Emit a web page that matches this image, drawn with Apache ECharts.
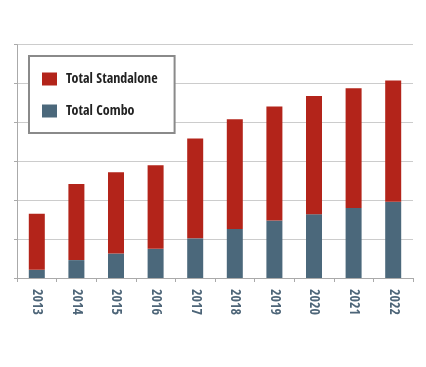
<!DOCTYPE html>
<html>
<head>
<meta charset="utf-8">
<script src="https://cdn.jsdelivr.net/npm/echarts@6/dist/echarts.min.js"></script>
<style>
html,body{margin:0;padding:0;background:#fff;}
#chart{width:426px;height:367px;}
</style>
</head>
<body>
<div id="chart"></div>
<script>
const years = ['2013','2014','2015','2016','2017','2018','2019','2020','2021','2022'];
const totalCombo = [21, 46, 63, 75, 102, 126, 148, 164, 180, 196];
const totalStandalone = [144, 196, 209, 215, 257, 282, 293, 304, 308, 312];
const seriesNames = ['Total Standalone', 'Total Combo'];

const FONT = "'Open Sans Condensed', 'Roboto Condensed', sans-serif";
const RED = '#b3241a';
const SLATE = '#4b687b';

const chart = echarts.init(document.getElementById('chart'), null, {renderer: 'canvas'});
chart.setOption({
  animation: false,
  backgroundColor: '#ffffff',
  grid: {left: 17, right: 13, top: 44.7, bottom: 89, containLabel: false},
  legend: {
    data: seriesNames,
    orient: 'vertical',
    left: 29, top: 56,
    itemWidth: 15, itemHeight: 13, itemGap: 18,
    padding: [16, 17, 15, 13],
    backgroundColor: '#ffffff',
    borderColor: '#8a8a8a', borderWidth: 2,
    icon: 'rect',
    textStyle: {fontFamily: FONT, fontWeight: 'bold', fontSize: 14, color: '#222', lineHeight: 13, padding: [0,0,0,4]}
  },
  xAxis: {
    type: 'category',
    data: years,
    boundaryGap: true,
    axisLine: {show: true, lineStyle: {color: '#aaaaaa', width: 1}},
    axisTick: {show: true, length: 4, lineStyle: {color: '#aaaaaa'}},
    axisLabel: {rotate: -90, margin: 11, fontFamily: FONT, fontWeight: 'bold', fontSize: 14, color: '#4d6578'}
  },
  yAxis: {
    type: 'value',
    min: 0, max: 600, interval: 100,
    axisLine: {show: true, lineStyle: {color: '#aaaaaa', width: 1}},
    axisTick: {show: true, length: 3, inside: false, lineStyle: {color: '#aaaaaa'}},
    axisLabel: {show: false},
    splitLine: {show: true, lineStyle: {color: '#cccccc', width: 1}}
  },
  series: [
    {name: 'Total Combo', type: 'bar', stack: 'total', data: totalCombo, barWidth: 16, itemStyle: {color: SLATE}},
    {name: 'Total Standalone', type: 'bar', stack: 'total', data: totalStandalone, barWidth: 16, itemStyle: {color: RED}}
  ]
});
</script>
</body>
</html>
